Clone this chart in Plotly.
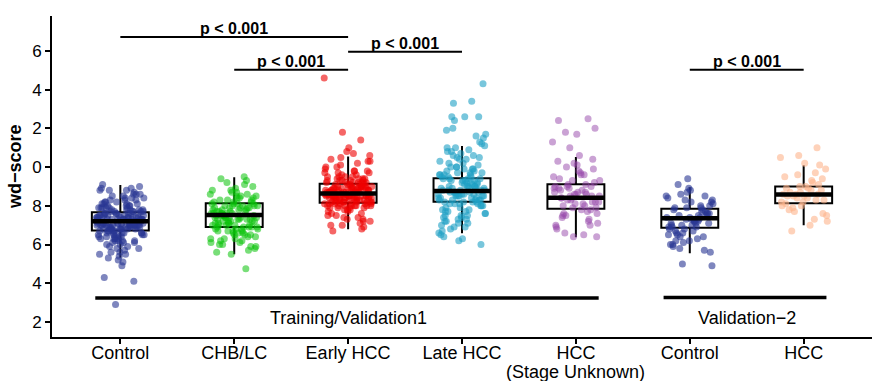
import plotly.graph_objects as go

# ---------------- data ----------------
categories = ["Control", "CHB/LC", "Early HCC", "Late HCC", "HCC\n(Stage Unknown)", "Control", "HCC"]

control_train = [7.2, 6.9, 7.5, 8.1, 6.4, 7.0, 7.8, 7.3, 6.6, 8.5, 7.1, 6.2, 7.6, 7.4, 5.9, 8.8, 7.0, 6.8, 7.9, 7.2,
                 6.5, 7.7, 8.3, 6.0, 7.4, 7.1, 6.7, 8.0, 5.6, 7.3, 6.9, 7.5, 8.6, 6.3, 7.0, 7.8, 5.3, 7.2, 6.8, 8.9,
                 7.6, 6.1, 7.3, 6.6, 8.2, 7.0, 5.8, 7.9, 7.4, 6.9, 9.0, 6.4, 7.1, 7.7, 6.7, 8.4, 5.5, 7.3, 7.0, 6.2,
                 7.5, 8.0, 6.8, 7.2, 5.1, 7.6, 8.7, 6.5, 7.1, 7.9, 6.9, 7.4, 6.0, 8.1, 7.3, 6.6, 7.8, 5.7, 7.0, 8.3,
                 6.3, 7.5, 7.2, 6.8, 8.6, 4.9, 7.1, 7.7, 6.4, 7.4, 8.0, 6.7, 7.2, 5.4, 7.9, 6.9, 8.5, 7.3, 6.1, 7.6,
                 7.0, 8.2, 6.5, 7.4, 5.9, 7.8, 6.8, 9.1, 7.1, 6.3, 7.5, 8.4, 6.6, 7.2, 5.2, 8.8, 7.0, 6.9, 7.7, 6.2,
                 4.3, 4.1, 2.9, 7.3, 8.1, 6.7, 7.6, 5.6, 7.4, 8.9, 7.0, 6.5, 7.3, 7.9, 6.8, 7.1, 6.4, 7.6, 8.3, 6.9,
                 7.1, 6.8, 7.4, 7.7, 6.5, 7.2, 8.0, 6.9, 7.5, 6.3, 7.0, 7.8, 6.6, 7.3, 8.2, 6.1, 7.6, 7.2, 6.8, 7.9,
                 5.8, 7.4, 7.0, 8.4, 6.7, 7.1, 7.5, 6.4, 8.6, 7.3, 5.5, 6.9, 7.7, 7.2, 6.6, 8.1, 7.0, 6.2, 7.4, 8.8]
chb_lc = [7.5, 8.0, 6.8, 7.3, 8.6, 7.1, 6.3, 7.9, 7.6, 8.3, 6.6, 7.4, 9.1, 7.0, 5.9, 8.1, 7.7, 6.9, 7.2, 8.8,
          6.2, 7.5, 8.4, 7.0, 5.6, 7.8, 6.7, 8.0, 7.3, 9.4, 6.5, 7.6, 8.2, 6.9, 7.4, 5.8, 8.7, 7.1, 6.4, 7.9,
          7.6, 8.5, 6.0, 7.2, 8.1, 6.8, 7.7, 9.2, 7.4, 6.6, 8.3, 7.0, 5.5, 7.8, 8.0, 6.3, 7.5, 8.9, 6.9, 7.3,
          7.1, 8.6, 6.1, 7.6, 8.2, 6.7, 7.9, 9.5, 7.4, 6.4, 8.4, 7.0, 5.7, 7.7, 8.1, 6.8, 7.2, 9.0, 6.5, 7.5,
          4.75, 8.3, 6.9, 7.8, 6.2, 7.3, 8.7, 7.6, 6.6, 8.0, 7.2, 8.5, 6.7, 7.9, 7.4, 6.1,
          7.4, 7.8, 6.9, 8.2, 7.1, 6.5, 7.6, 8.5, 7.3, 6.0, 7.9, 8.8, 7.0, 6.7, 7.5, 8.1, 6.3, 7.7, 9.3, 7.2,
          6.8, 8.4, 7.5, 5.9, 8.0]
early_hcc = [8.6, 8.9, 8.3, 9.2, 8.0, 8.7, 9.5, 8.4, 7.8, 8.8, 9.0, 8.2, 8.6, 9.8, 7.5, 8.5, 9.1, 8.1, 8.7, 10.1,
             7.2, 8.9, 8.4, 9.3, 8.0, 8.6, 9.6, 7.9, 8.8, 8.3, 10.4, 8.5, 7.0, 9.0, 8.7, 8.2, 9.4, 8.6, 7.7, 8.9,
             8.4, 9.7, 8.1, 8.6, 9.2, 7.4, 8.8, 8.3, 10.0, 8.5, 8.9, 7.9, 9.1, 8.6, 8.0, 9.5, 8.7, 6.9, 8.4, 9.3,
             8.2, 8.8, 10.3, 8.5, 7.6, 9.0, 8.6, 8.1, 9.8, 8.4, 8.9, 7.3, 8.7, 9.2, 8.3, 10.6, 8.0, 8.6, 9.4, 7.8,
             8.5, 8.8, 9.0, 8.2, 11.0, 8.7, 7.1, 9.6, 8.4, 8.9, 8.1, 9.1, 8.6, 7.5, 10.2, 8.3, 8.8, 9.3, 8.5, 6.8,
             8.7, 9.9, 8.0, 8.6, 9.2, 7.7, 8.4, 8.9, 10.5, 8.2, 9.0, 8.5, 7.2, 9.5, 8.7, 8.3, 9.7, 8.6, 7.9, 8.8,
             11.4, 11.8, 14.6, 8.4, 9.1, 8.1, 10.8, 8.6, 7.4, 9.3, 8.5, 8.9, 6.7, 9.0, 8.2, 10.0, 8.7, 9.4, 8.0, 8.5,
             8.6, 8.3, 8.9, 8.1, 9.2, 8.5, 7.9, 8.7, 9.5, 8.4, 8.0, 8.8, 9.1, 8.2, 7.6, 8.6, 9.7, 8.5, 8.3, 9.0,
             7.8, 8.7, 9.4, 8.1, 10.3, 8.6, 8.9, 7.3, 8.4, 9.2, 8.0, 8.7, 9.8, 8.5, 7.0, 8.8, 9.3, 8.2, 10.7, 8.6]
late_hcc = [8.8, 9.3, 8.2, 9.8, 8.5, 7.6, 9.0, 10.2, 8.7, 7.9, 9.5, 8.4, 10.6, 8.0, 9.1, 7.2, 8.9, 9.7, 8.3, 10.9,
            6.8, 9.4, 8.6, 7.4, 9.9, 8.1, 8.8, 10.4, 7.7, 9.2, 8.5, 6.5, 9.6, 8.9, 11.2, 8.2, 7.5, 9.0, 10.0, 8.6,
            7.1, 9.4, 8.3, 10.7, 7.8, 9.1, 8.7, 11.5, 6.9, 9.8, 8.4, 7.3, 10.3, 8.9, 9.3, 8.0, 6.3, 9.6, 8.6, 11.0,
            7.6, 9.2, 8.8, 10.1, 8.1, 7.0, 9.5, 12.0, 8.5, 9.9, 7.9, 8.3, 10.5, 6.6, 9.0, 8.7, 11.3, 7.4, 9.4, 8.2,
            12.4, 8.9, 7.7, 10.8, 9.1, 6.2, 8.4, 9.7, 12.6, 8.0, 10.2, 7.2, 9.3, 8.6, 11.7, 7.5, 9.0, 12.6, 8.8, 6.7,
            13.4, 13.3, 14.3, 12.6, 11.9, 11.6, 8.5, 9.6, 7.8, 10.0, 8.3, 9.2, 6.4, 10.6, 8.7, 11.1, 7.3, 9.5, 8.1, 10.4,
            8.9, 9.2, 8.3, 9.7, 8.6, 7.7, 9.0, 10.0, 8.4, 9.4, 8.1, 10.5, 7.5, 8.8, 9.9, 6.9, 8.5, 9.3, 11.0, 8.2,
            7.1, 9.6, 8.7, 10.8, 6.0]
hcc_unknown = [8.4, 9.0, 7.9, 8.7, 9.6, 7.5, 8.2, 10.1, 8.9, 7.2, 8.5, 9.3, 7.8, 8.0, 10.4, 8.6, 6.9, 9.1, 8.3, 7.6,
               9.8, 8.8, 7.0, 8.4, 9.5, 8.1, 6.6, 9.2, 8.6, 10.3, 7.7, 8.9, 8.2, 9.7, 7.4, 8.5, 6.4, 9.0, 8.0, 10.0,
               7.9, 8.7, 9.4, 7.3, 8.3, 11.3, 8.8, 7.6, 9.9, 8.1, 6.8, 8.6, 9.1, 7.1, 10.6, 8.4, 7.8, 9.3, 8.9, 6.5,
               11.8, 12.0, 11.7, 12.4, 12.5, 11.0, 8.5, 9.6, 7.5, 8.2, 10.2, 7.0, 8.7, 9.0, 6.4]
control_val = [7.4, 7.0, 7.9, 6.6, 8.3, 7.2, 6.2, 7.7, 8.7, 6.9, 7.5, 6.4, 8.0, 7.3, 5.9, 7.8, 6.8, 8.5, 7.1, 6.5,
               7.6, 8.9, 6.0, 7.4, 7.0, 8.2, 6.7, 7.9, 5.7, 7.3, 8.4, 6.3, 7.5, 7.1, 8.8, 6.9, 7.7, 6.1, 8.1, 7.2,
               6.6, 7.5, 9.4, 6.8, 7.3, 8.6, 5.6, 7.0, 7.8, 6.4, 8.3, 7.4, 6.9, 9.1, 7.6, 6.2, 7.1, 8.0, 5.0, 4.9,
               7.3, 6.7, 8.5, 7.9, 6.5, 7.2, 5.8, 7.6, 8.2, 6.0]
hcc_val = [8.6, 9.0, 8.2, 8.8, 7.9, 9.4, 8.5, 8.1, 9.7, 8.4, 7.5, 8.9, 8.7, 10.1, 8.0, 8.6, 9.2, 7.7, 8.3, 9.0,
           8.5, 11.0, 10.6, 10.5, 7.0, 6.7, 8.8, 8.2, 9.5, 7.3, 8.6, 9.9, 8.4, 7.8, 9.1, 8.7, 8.0, 9.3, 8.5, 7.6,
           10.2, 8.9, 8.3, 9.6, 7.2]

group_values = [control_train, chb_lc, early_hcc, late_hcc, hcc_unknown, control_val, hcc_val]

# box statistics
box_q1 = [6.72, 6.91, 8.16, 8.21, 7.85, 6.86, 8.13]
box_median = [7.20, 7.53, 8.63, 8.77, 8.42, 7.36, 8.58]
box_q3 = [7.67, 8.13, 9.14, 9.42, 9.11, 7.85, 8.99]
box_low = [5.32, 5.50, 6.79, 6.58, 6.37, 5.55, 6.99]
box_high = [9.08, 9.47, 10.54, 11.09, 10.52, 8.96, 10.09]

y_tickvals = [2, 4, 6, 8, 10, 12, 14, 16]
y_ticktext = ["2", "4", "6", "8", "0", "2", "4", "6"]

# comparisons: (group a, group b, bracket level, label)
comparisons = [(0, 2, 16.72, "p < 0.001"), (1, 2, 15.03, "p < 0.001"),
               (2, 3, 15.96, "p < 0.001"), (5, 6, 15.03, "p < 0.001")]
cohorts = [("Training/Validation1", -0.22, 4.2, 3.24, 2.0), ("Validation\u22122", 4.77, 6.2, 3.26, 5.5)]

# ---------------- styles ----------------
point_colors = ["rgba(40,53,147,0.6)", "rgba(10,195,10,0.55)", "rgba(238,0,0,0.6)", "rgba(30,160,196,0.6)",
                "rgba(150,70,170,0.5)", "rgba(40,53,147,0.6)", "rgba(253,180,140,0.6)"]
FONT = "Arial, 'Liberation Sans', sans-serif"
JIT = 0.21

fig = go.Figure()
positions = list(range(len(categories)))

for i, vals in enumerate(group_values):
    xs = [i + ((k * 0.6180339887 + 0.3 * i) % 1 - 0.5) * 2 * JIT for k in range(len(vals))]
    fig.add_trace(go.Scatter(x=xs, y=vals, mode="markers",
                             marker=dict(size=7, color=point_colors[i], line=dict(width=0)),
                             showlegend=False, hoverinfo="y"))

fig.add_trace(go.Box(x=positions, q1=box_q1, median=box_median, q3=box_q3,
                     lowerfence=box_low, upperfence=box_high, boxpoints=False,
                     width=0.5, whiskerwidth=0, line=dict(color="black", width=2),
                     fillcolor="rgba(255,255,255,0.5)", showlegend=False))

shapes = []
for i, m in enumerate(box_median):
    shapes.append(dict(type="line", xref="x", yref="y", x0=i - 0.25, x1=i + 0.25, y0=m, y1=m,
                       line=dict(color="black", width=4.5), layer="above"))

annotations = []
for a, b, lvl, lab in comparisons:
    shapes.append(dict(type="line", xref="x", yref="y", x0=a, x1=b, y0=lvl, y1=lvl,
                       line=dict(color="black", width=2), layer="above"))
    annotations.append(dict(x=(a + b) / 2, y=lvl, xref="x", yref="y", text=lab, showarrow=False,
                            yanchor="bottom", yshift=-2, font=dict(family=FONT, size=16, color="black", weight="bold")))

for lab, x0, x1, ly, tx in cohorts:
    shapes.append(dict(type="line", xref="x", yref="y", x0=x0, x1=x1, y0=ly, y1=ly,
                       line=dict(color="black", width=3.5), layer="above"))
    annotations.append(dict(x=tx, y=2.2, xref="x", yref="y", text=lab, showarrow=False,
                            font=dict(family=FONT, size=18, color="black")))

# tick labels: first line on the axis, any second line as a text just below it
first_lines = [c.split("\n")[0] for c in categories]
for i, c in enumerate(categories):
    parts = c.split("\n")
    if len(parts) > 1:
        annotations.append(dict(x=i, y=0, xref="x", yref="paper", text=parts[1], showarrow=False,
                                yanchor="top", yshift=-23, font=dict(family=FONT, size=18, color="black")))

annotations.append(dict(x=-0.045, y=0.53, xref="paper", yref="paper", text="wd\u2212score", textangle=-90,
                        xanchor="center", yanchor="middle",
                        showarrow=False, font=dict(family=FONT, size=18, color="black", weight="bold")))

fig.update_layout(
    width=874, height=381, margin=dict(l=52, r=2, t=16, b=44, autoexpand=False),
    plot_bgcolor="white", paper_bgcolor="white", boxmode="overlay",
    shapes=shapes, annotations=annotations, showlegend=False,
    font=dict(family=FONT, color="black"),
    xaxis=dict(range=[-0.6, 6.6], tickvals=positions, ticktext=first_lines, showgrid=False, zeroline=False,
               showline=True, linecolor="black", linewidth=2, ticks="outside", ticklen=5, tickwidth=2,
               tickcolor="black", automargin=False, ticklabelstandoff=-7,
               tickfont=dict(family=FONT, size=18, color="black")),
    yaxis=dict(range=[1.225, 17.8], tickvals=y_tickvals, ticktext=y_ticktext, showgrid=False, zeroline=False,
               showline=True, linecolor="black", linewidth=2, ticks="outside", ticklen=5, tickwidth=2,
               tickcolor="black", automargin=False,
               tickfont=dict(family=FONT, size=17, color="black")),
)

fig.write_html("out.html", config={"displayModeBar": False},
               post_script="document.body.style.margin='0';")
